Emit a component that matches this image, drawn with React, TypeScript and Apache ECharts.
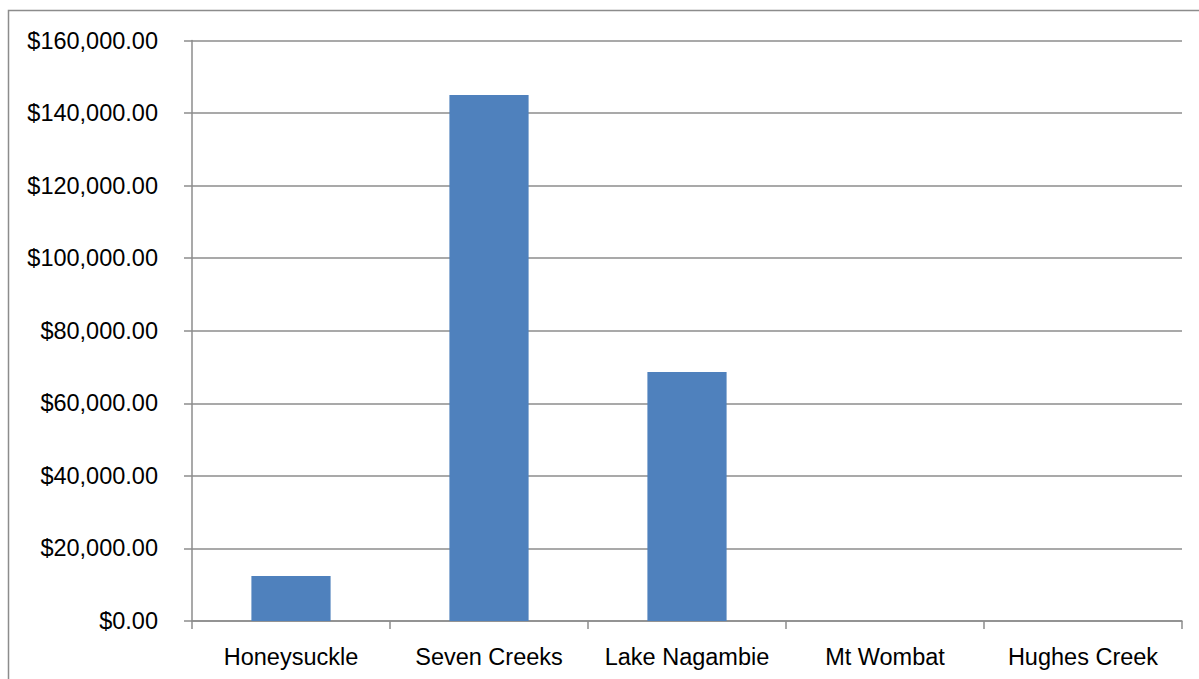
import React, { useEffect, useRef } from "react";
import * as echarts from "echarts";

const categories = ["Honeysuckle", "Seven Creeks", "Lake Nagambie", "Mt Wombat", "Hughes Creek"];
const values = [12400, 145000, 68600, 0, 0];
const yMin = 0;
const yMax = 160000;
const yInterval = 20000;

export default function App() {
  const ref = useRef<HTMLDivElement>(null);
  useEffect(() => {
    if (!ref.current) return;
    const chart = echarts.init(ref.current, null, { renderer: "svg" });
    const font = "'Liberation Sans', Arial, sans-serif";
    chart.setOption({
      animation: false,
      backgroundColor: "#ffffff",
      graphic: [
        {
          type: "rect",
          shape: { x: 8.5, y: 10.5, width: 1300, height: 800 },
          style: { fill: "none", stroke: "#8c8c8c", lineWidth: 1.5 },
          silent: true,
          z: 10,
        },
      ],
      grid: { left: 192, right: 17, top: 40.5, bottom: 58, containLabel: false },
      xAxis: {
        type: "category",
        data: categories,
        axisLine: { show: true, lineStyle: { color: "#8c8c8c", width: 1.5 } },
        axisTick: { show: true, length: 8, lineStyle: { color: "#8c8c8c", width: 1.5 }, alignWithLabel: false },
        axisLabel: { color: "#000000", fontSize: 23.5, fontFamily: font, margin: 24, interval: 0, hideOverlap: false },
      },
      yAxis: {
        type: "value",
        min: yMin,
        max: yMax,
        interval: yInterval,
        axisLine: { show: true, lineStyle: { color: "#8c8c8c", width: 1.5 } },
        axisTick: { show: true, length: 8, lineStyle: { color: "#8c8c8c", width: 1.5 } },
        splitLine: { show: true, lineStyle: { color: "#8c8c8c", width: 1.5 } },
        axisLabel: {
          color: "#000000",
          fontSize: 23.5,
          fontFamily: font,
          margin: 34,
          formatter: (v: number) =>
            "$" + v.toLocaleString("en-US", { minimumFractionDigits: 2, maximumFractionDigits: 2 }),
        },
      },
      series: [
        {
          type: "bar",
          data: values,
          barCategoryGap: "60%",
          itemStyle: { color: "#4f81bd" },
        },
      ],
    });
    return () => chart.dispose();
  }, []);
  return (
    <div
      ref={ref}
      style={{ position: "absolute", left: 0, top: 0, width: 1199, height: 679 }}
    />
  );
}
